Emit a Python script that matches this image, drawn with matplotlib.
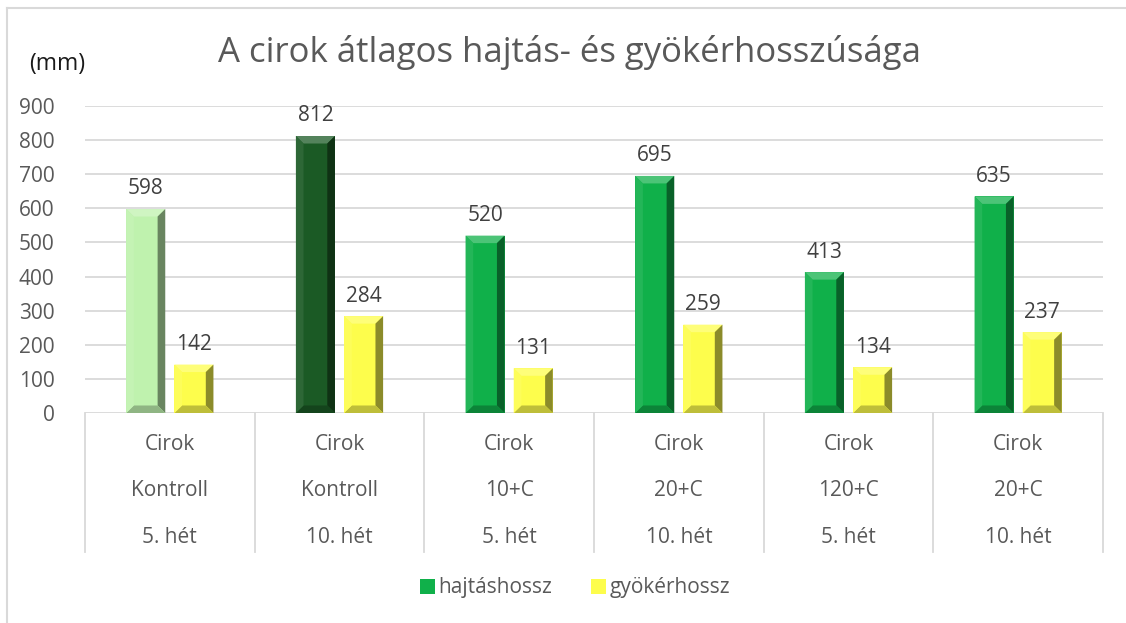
import matplotlib.pyplot as plt
import numpy as np
from matplotlib.patches import Polygon
from matplotlib.lines import Line2D
import matplotlib.colors as mcolors

plt.rcParams['font.family'] = ['Open Sans', 'DejaVu Sans']

# Data
row1 = ["Cirok"] * 6
row2 = ["Kontroll", "Kontroll", "10+C", "20+C", "120+C", "20+C"]
row3 = ["5. hét", "10. hét", "5. hét", "10. hét", "5. hét", "10. hét"]
hajtas = [598, 812, 520, 695, 413, 635]
gyoker = [142, 284, 131, 259, 134, 237]
hajtas_colors = ["#bff2ae", "#1b5a25", "#10b04a", "#10b04a", "#10b04a", "#10b04a"]
gyoker_color = "#fdfd4c"

text_col = "#595959"
grid_col = "#d9d9d9"
fs = 15

fig = plt.figure(figsize=(11.26, 6.23), dpi=100)
W, H = 1126, 623
ax = fig.add_axes([85 / W, (H - 413) / H, (1103 - 85) / W, (413 - 106) / H])

n = len(hajtas)
x = np.arange(n)
bw = 0.23
off = 0.142

b1 = ax.bar(x - off, hajtas, bw, color=hajtas_colors, zorder=2)
b2 = ax.bar(x + off, gyoker, bw, color=gyoker_color, zorder=2)


def bevel(rect):
    x0, y0 = rect.get_x(), rect.get_y()
    w, h = rect.get_width(), rect.get_height()
    x1, y1 = x0 + w, y0 + h
    bx = 0.045
    by = min(22, h / 2)
    base = np.array(mcolors.to_rgb(rect.get_facecolor()))
    light = base + (1 - base) * 0.25
    dark = base * 0.55
    mid_dark = base * 0.75
    slight = base + (1 - base) * 0.08
    polys = [
        ([(x0, y1), (x1, y1), (x1 - bx, y1 - by), (x0 + bx, y1 - by)], light),
        ([(x1, y1), (x1, y0), (x1 - bx, y0 + by), (x1 - bx, y1 - by)], dark),
        ([(x0, y0), (x1, y0), (x1 - bx, y0 + by), (x0 + bx, y0 + by)], mid_dark),
        ([(x0, y0), (x0, y1), (x0 + bx, y1 - by), (x0 + bx, y0 + by)], slight),
    ]
    for pts, c in polys:
        ax.add_patch(Polygon(pts, closed=True, facecolor=c, edgecolor='none', zorder=3))


for r in list(b1) + list(b2):
    bevel(r)

for rects, vals in ((b1, hajtas), (b2, gyoker)):
    for r, v in zip(rects, vals):
        ax.text(r.get_x() + r.get_width() / 2, v + 28, str(v), ha='center', va='bottom',
                fontsize=fs, color='#404040')

ax.set_ylim(0, 900)
ax.set_xlim(-0.5, n - 0.5)
ax.set_yticks(range(0, 901, 100))
ax.yaxis.grid(True, color=grid_col, linewidth=1.3, zorder=0)
ax.set_axisbelow(True)
for s in ax.spines.values():
    s.set_visible(False)
ax.tick_params(axis='y', length=0, labelsize=fs, labelcolor=text_col, pad=22)
ax.tick_params(axis='x', length=0, labelbottom=False)

# category table below the axis
tr = ax.get_xaxis_transform()
bottom = -(552 - 413) / 307
for b in np.arange(n + 1) - 0.5:
    ax.add_line(Line2D([b, b], [0, bottom], transform=tr, color=grid_col,
                       linewidth=1.3, clip_on=False))
for i in range(n):
    for lab, yy in zip((row1[i], row2[i], row3[i]), (-0.101, -0.254, -0.404)):
        ax.text(x[i], yy, lab, transform=tr, ha='center', va='center',
                fontsize=fs, color=text_col)

fig.text(570 / W, 1 - 52 / H, "A cirok átlagos hajtás- és gyökérhosszúsága",
         ha='center', va='center', fontsize=25, color=text_col)
fig.text(57 / W, 1 - 64 / H, "(mm)", ha='center', va='center', fontsize=16.5, color='#1a1a1a')

# outer frame (left and top)
fig.add_artist(Line2D([7 / W, 7 / W], [0, 1 - 8 / H], transform=fig.transFigure,
                      color=grid_col, linewidth=1.5))
fig.add_artist(Line2D([7 / W, 1], [1 - 8 / H, 1 - 8 / H], transform=fig.transFigure,
                      color=grid_col, linewidth=1.5))

leg = fig.legend([b1[2], b2[0]], ["hajtáshossz", "gyökérhossz"], loc='center',
                 bbox_to_anchor=(575 / W, 1 - 588 / H), ncol=2, frameon=False,
                 fontsize=fs, handlelength=0.7, handleheight=0.7, handletextpad=0.15,
                 columnspacing=1.9, labelcolor=text_col)

fig.savefig("out.png", dpi=100)
